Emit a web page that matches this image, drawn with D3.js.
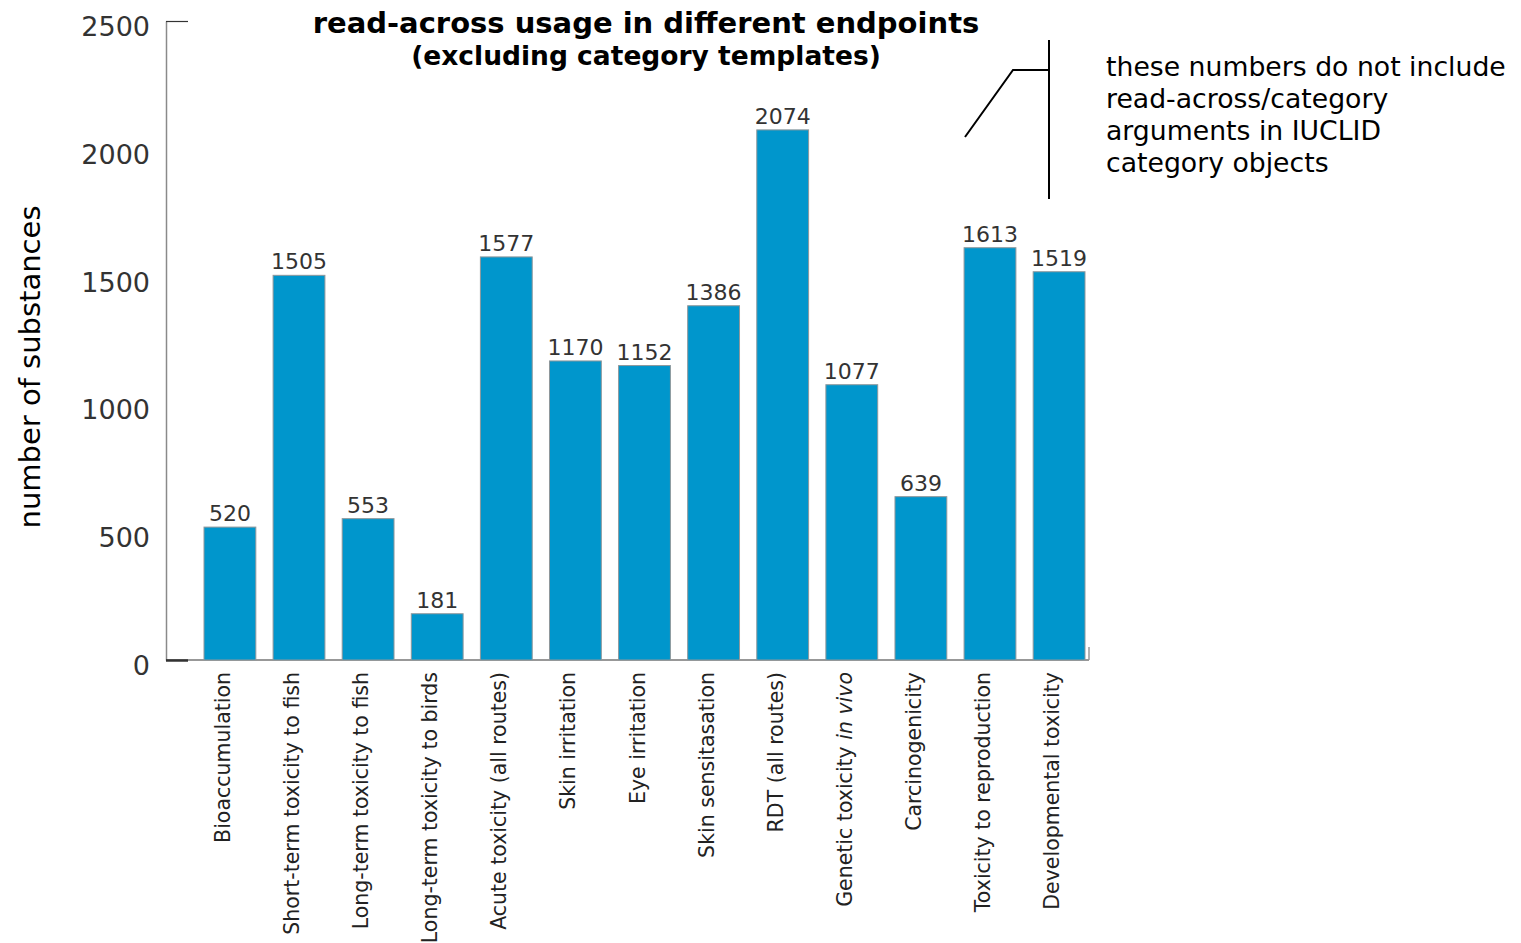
<!DOCTYPE html>
<html>
<head>
<meta charset="utf-8">
<script src="https://cdn.jsdelivr.net/npm/d3@7"></script>
<style>
  body { margin: 0; background: #fff; }
  svg { font-family: "DejaVu Sans", Verdana, sans-serif; }
</style>
</head>
<body>
<div id="chart"></div>
<script>
// data
const endpoints = [
  "Bioaccumulation",
  "Short-term toxicity to fish",
  "Long-term toxicity to fish",
  "Long-term toxicity to birds",
  "Acute toxicity (all routes)",
  "Skin irritation",
  "Eye irritation",
  "Skin sensitasation",
  "RDT (all routes)",
  "Genetic toxicity in vivo",
  "Carcinogenicity",
  "Toxicity to reproduction",
  "Developmental toxicity",
];
const substances = [520, 1505, 553, 181, 1577, 1170, 1152, 1386, 2074, 1077, 639, 1613, 1519];
const yTicks = [0, 500, 1000, 1500, 2000, 2500];
const titleLines = ["read-across usage in different endpoints", "(excluding category templates)"];
const noteLines = [
  "these numbers do not include",
  "read-across/category",
  "arguments in IUCLID",
  "category objects",
];

const W = 1521, H = 943;
const axisX = 166, axisRight = 1089;
const baseY = 660, topY = 21;

const svg = d3.select("#chart").append("svg")
  .attr("width", W)
  .attr("height", H);

const x = d3.scaleBand()
  .domain(endpoints)
  .range([204, 1085])
  .paddingInner(0.25)
  .paddingOuter(0);

const y = d3.scaleLinear()
  .domain([0, 2500])
  .range([baseY, topY]);

// y axis with labels
const yAxis = svg.append("g")
  .attr("transform", `translate(${axisX},0)`)
  .call(d3.axisLeft(y).tickValues(yTicks).tickFormat(d3.format("d"))
    .tickSize(0).tickPadding(16).tickSizeOuter(0));
yAxis.select(".domain").attr("stroke", "#8a8a8a").attr("stroke-width", 1.5);
yAxis.selectAll("text")
  .attr("font-size", 27)
  .attr("fill", "#333")
  .attr("dy", "0.54em")
  .style("font-family", "DejaVu Sans, sans-serif");

// only the end ticks are drawn
const endTicks = svg.append("g")
  .attr("transform", `translate(${axisX},0)`)
  .call(d3.axisRight(y).tickValues([0, 2500]).tickSize(22).tickFormat(""));
endTicks.select(".domain").remove();
endTicks.selectAll(".tick line")
  .attr("stroke", "#333")
  .attr("stroke-width", (d) => (d === 0 ? 2.5 : 1.2));

// baseline
svg.append("line")
  .attr("x1", axisX).attr("x2", axisRight)
  .attr("y1", y(0)).attr("y2", y(0))
  .attr("stroke", "#333")
  .attr("stroke-width", 1.2);
svg.append("line")
  .attr("x1", axisRight).attr("x2", axisRight)
  .attr("y1", y(0) - 13).attr("y2", y(0))
  .attr("stroke", "#999")
  .attr("stroke-width", 1.5);

// bars
const data = endpoints.map((e, i) => ({ name: e, value: substances[i] }));

svg.append("g")
  .selectAll("rect")
  .data(data)
  .join("rect")
  .attr("x", (d) => x(d.name))
  .attr("y", (d) => y(d.value))
  .attr("width", x.bandwidth())
  .attr("height", (d) => y(0) - y(d.value))
  .attr("fill", "#0096cc")
  .attr("stroke", "#8f979b")
  .attr("stroke-width", 1);

// value labels
svg.append("g")
  .selectAll("text")
  .data(data)
  .join("text")
  .attr("x", (d) => x(d.name) + x.bandwidth() / 2)
  .attr("y", (d) => y(d.value) - 6)
  .attr("text-anchor", "middle")
  .attr("font-size", 22)
  .attr("fill", "#333")
  .text((d) => d.value);

// category labels, rotated
const catLabels = svg.append("g")
  .selectAll("text")
  .data(data)
  .join("text")
  .attr("transform", (d) => `translate(${x(d.name) + x.bandwidth() / 2},672) rotate(-90)`)
  .attr("text-anchor", "end")
  .attr("font-size", 20.5)
  .attr("fill", "#222");

catLabels.each(function (d) {
  const t = d3.select(this);
  if (d.name.endsWith(" in vivo")) {
    t.append("tspan").text(d.name.replace(" in vivo", " "));
    t.append("tspan").attr("font-style", "italic").text("in vivo");
  } else {
    t.text(d.name);
  }
});

// y axis title
svg.append("text")
  .attr("transform", "translate(40,367) rotate(-90)")
  .attr("text-anchor", "middle")
  .attr("font-size", 29)
  .attr("fill", "#000")
  .text("number of substances");

// title
svg.append("g")
  .selectAll("text")
  .data(titleLines)
  .join("text")
  .attr("x", 646)
  .attr("y", (d, i) => 33 + i * 32)
  .attr("text-anchor", "middle")
  .attr("font-weight", "bold")
  .attr("font-size", (d, i) => (i === 0 ? 29 : 26.5))
  .attr("fill", "#000")
  .text((d) => d);

// annotation bracket
svg.append("path")
  .attr("d", "M1049,40 V199 M1049,70 H1013 L965,137")
  .attr("fill", "none")
  .attr("stroke", "#000")
  .attr("stroke-width", 2);

svg.append("g")
  .selectAll("text")
  .data(noteLines)
  .join("text")
  .attr("x", 1106)
  .attr("y", (d, i) => 76 + i * 32)
  .attr("font-size", 26.7)
  .attr("fill", "#000")
  .text((d) => d);
</script>
</body>
</html>
